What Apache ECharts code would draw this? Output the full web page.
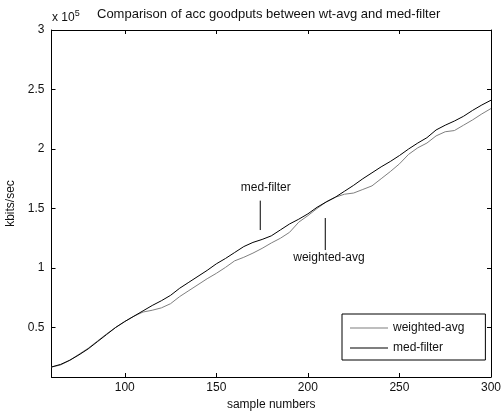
<!DOCTYPE html>
<html><head><meta charset="utf-8">
<script src="https://cdn.jsdelivr.net/npm/echarts@6/dist/echarts.min.js"></script>
<style>html,body{margin:0;padding:0;background:#fff}#c{width:501px;height:413px}</style>
</head><body><div id="c"></div>
<script>
var samples = [60,65,70,75,80,85,90,95,100,105,110,115,120,125,130,135,140,145,150,155,160,165,170,175,180,185,190,195,200,205,210,215,220,225,230,235,240,245,250,255,260,265,270,275,280,285,290,295,300];
var weightedAvg = [0.168,0.185,0.225,0.275,0.325,0.385,0.445,0.50,0.55,0.595,0.63,0.645,0.665,0.70,0.76,0.81,0.86,0.91,0.955,1.005,1.06,1.09,1.125,1.165,1.21,1.25,1.30,1.385,1.44,1.50,1.555,1.595,1.62,1.63,1.66,1.69,1.75,1.81,1.875,1.955,2.01,2.05,2.11,2.145,2.155,2.20,2.245,2.295,2.34];
var medFilter = [0.168,0.19,0.225,0.27,0.32,0.38,0.44,0.50,0.55,0.595,0.64,0.685,0.725,0.77,0.83,0.88,0.93,0.98,1.035,1.08,1.13,1.18,1.215,1.24,1.27,1.32,1.37,1.41,1.455,1.51,1.555,1.595,1.645,1.695,1.75,1.80,1.85,1.895,1.945,2.0,2.05,2.095,2.16,2.20,2.235,2.275,2.325,2.37,2.41];
var xTicks = [100,150,200,250,300];
var yTicks = [0.5,1,1.5,2,2.5,3];
var titleText = 'Comparison of acc goodputs between wt-avg and med-filter';
var xName = 'sample numbers';
var yName = 'kbits/sec';
var seriesNames = ['weighted-avg','med-filter'];
var annotations = [
  {text:'med-filter', labelAt:[177,1.672], line:[[174,1.566],[174,1.319]]},
  {text:'weighted-avg', labelAt:[211.5,1.084], line:[[209.5,1.42],[209.5,1.151]]}
];

var FONT = 'Liberation Sans, Arial, sans-serif';
var chart = echarts.init(document.getElementById('c'), null, {renderer:'canvas'});
function pairs(xs, ys){ return xs.map(function(x,i){return [x, ys[i]];}); }
var axisCommon = {
  axisLine:{show:true,onZero:false,lineStyle:{color:'#000',width:1}},
  splitLine:{show:false}
};
var option = {
  backgroundColor:'#fff',
  animation:false,
  title:{text:titleText,left:97,top:8,textStyle:{fontFamily:FONT,fontSize:13,fontWeight:'normal',color:'#111'},padding:0},
  grid:{left:51.5,right:10,top:30,bottom:36,containLabel:false,outerBoundsMode:'none'},
  legend:{
    data:seriesNames, orient:'vertical', left:342, top:314,
    padding:[8,21,6,8], itemGap:8, itemWidth:38, itemHeight:1, icon:'rect',
    borderColor:'#000', borderWidth:1, backgroundColor:'#fff',
    textStyle:{fontFamily:FONT,fontSize:12,color:'#111'}
  },
  xAxis:[
    Object.assign({type:'value',min:60,max:300,position:'bottom',
      name:xName,nameLocation:'middle',nameGap:22,nameTextStyle:{fontFamily:FONT,fontSize:12,color:'#111'},
      axisTick:{show:true,inside:true,length:4,customValues:xTicks,lineStyle:{color:'#000'}},
      axisLabel:{show:true,customValues:xTicks,fontFamily:FONT,fontSize:12,color:'#111',margin:5}},axisCommon),
    Object.assign({type:'value',min:60,max:300,position:'top',
      axisTick:{show:true,inside:true,length:4,customValues:xTicks,lineStyle:{color:'#000'}},
      axisLabel:{show:false}},axisCommon)
  ],
  yAxis:[
    Object.assign({type:'value',min:0.084,max:3,position:'left',
      name:yName,nameLocation:'middle',nameGap:28,nameTextStyle:{fontFamily:FONT,fontSize:12,color:'#111'},
      axisTick:{show:true,inside:true,length:4,customValues:yTicks,lineStyle:{color:'#000'}},
      axisLabel:{show:true,customValues:yTicks,fontFamily:FONT,fontSize:12,color:'#111',margin:7}},axisCommon),
    Object.assign({type:'value',min:0.084,max:3,position:'right',
      axisTick:{show:true,inside:true,length:4,customValues:yTicks,lineStyle:{color:'#000'}},
      axisLabel:{show:false}},axisCommon)
  ],
  series:[
    {name:seriesNames[0],type:'line',data:pairs(samples,weightedAvg),showSymbol:false,symbol:'none',
      lineStyle:{color:'#7f7f7f',width:1},itemStyle:{color:'#7f7f7f'},z:2},
    {name:seriesNames[1],type:'line',data:pairs(samples,medFilter),showSymbol:false,symbol:'none',
      lineStyle:{color:'#000',width:1},itemStyle:{color:'#000'},z:3}
  ]
};
chart.setOption(option);

var g2 = [];
annotations.forEach(function(a){
  var p = chart.convertToPixel({xAxisIndex:0,yAxisIndex:0}, a.labelAt);
  var p1 = chart.convertToPixel({xAxisIndex:0,yAxisIndex:0}, a.line[0]);
  var p2 = chart.convertToPixel({xAxisIndex:0,yAxisIndex:0}, a.line[1]);
  g2.push({type:'text',x:p[0],y:p[1],style:{text:a.text,font:'12px '+FONT,fill:'#111',align:'center',verticalAlign:'middle'}});
  g2.push({type:'line',shape:{x1:p1[0],y1:p1[1],x2:p2[0],y2:p2[1]},style:{stroke:'#000',lineWidth:1}});
});
chart.setOption({graphic:[
  {type:'text',x:52,y:9,style:{text:'x 10{s|5}',rich:{s:{fontSize:9,padding:[0,0,8,0]}},fontSize:12,fontFamily:FONT,fill:'#111'}}
].concat(g2)});
</script></body></html>
